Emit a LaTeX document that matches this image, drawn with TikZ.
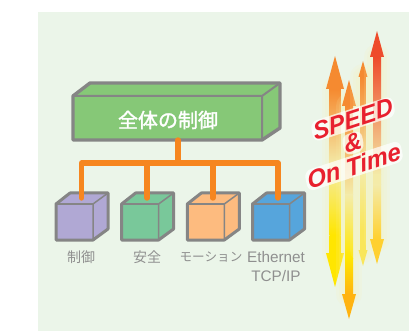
\documentclass[tikz,border=0pt]{standalone}
\usepackage{fontspec}
\usetikzlibrary{calc}
\newfontfamily\cjkm{Noto Sans CJK JP}
\newfontfamily\cjktitle[FakeBold=1.6]{Noto Sans CJK JP}
\newfontfamily\latinf{Liberation Sans}
\newfontfamily\speedf{Liberation Sans Bold Italic}
\definecolor{bgc}{HTML}{EBF5E9}
\definecolor{edgec}{HTML}{858585}
\definecolor{busc}{HTML}{F6861F}
\definecolor{textc}{HTML}{8F8F8F}
\definecolor{bigc}{HTML}{86C877}
\definecolor{speedc}{HTML}{E8202E}
\definecolor{glowc}{HTML}{FBF3B0}
\definecolor{cviolet}{HTML}{B0A8D4}
\definecolor{cgreen}{HTML}{79C89A}
\definecolor{corange}{HTML}{FDBB7F}
\definecolor{cblue}{HTML}{56A5DC}
\definecolor{aorange}{HTML}{F58A30}
\definecolor{ared}{HTML}{EE4B2B}
\definecolor{ayellow}{HTML}{FFE600}
\definecolor{aamber}{HTML}{FFB310}
\definecolor{asoft}{HTML}{F9E65A}
\definecolor{agold}{HTML}{FFD030}
\definecolor{apale}{HTML}{F4EBA8}
\tikzset{
  bus/.style={draw=busc,line width=5.4pt,line cap=round,line join=round},
  cubeedge/.style={draw=edgec,line width=3pt,line join=round},
  inneredge/.style={draw=edgec,line width=1.5pt,line join=round},
  caption/.style={text=textc,font=\cjkm\fontsize{14}{15}\selectfont,inner sep=0pt},
  latincaption/.style={caption,font=\latinf\fontsize{15.3}{16}\selectfont},
  speedtext/.style={text=speedc,inner sep=1.5pt,rotate=18,xslant=.12,
     fill=white,fill opacity=.7,text opacity=1,rounded corners=7pt,
     font=\speedf\fontsize{24.5}{26}\selectfont},
}
\newcommand{\smallcube}[3]{%
  \fill[#2] (#1,204)--(#1+14,193)--(#1+52,193)--(#1+52,229)--(#1+37,240)--(#1,240)--cycle;
  \draw[cubeedge] (#1,204)--(#1+14,193)--(#1+52,193)--(#1+52,229)--(#1+37,240)--(#1,240)--cycle;
  \draw[inneredge] (#1,204)--(#1+37,204)--(#1+37,240) (#1+37,204)--(#1+52,193);
  \coordinate (#3) at (#1+25.5,198);
}
\newcommand{\speedarrow}[9]{%
  \foreach \w in {26,20,14}{
    \draw[glowc,opacity=.13,line width=\w pt,line cap=round] (#1,#3) -- (#1,#6);
  }
  \shade[top color=\atopc,bottom color=apale]
    (#1-#9,#3) rectangle (#1+#9,#4);
  \shade[top color=apale,bottom color=\amidc]
    (#1-#9,#4) rectangle (#1+#9,#5);
  \shade[top color=\amidc,bottom color=\abotc]
    (#1-#9,#5) rectangle (#1+#9,#6);
  \fill[\atopc] (#1,#2) -- (#1+#8,#3) -- (#1-#8,#3) -- cycle;
  \fill[\abotc] (#1,#7) -- (#1+#8,#6) -- (#1-#8,#6) -- cycle;
}
\begin{document}
\begin{tikzpicture}[x=1pt,y=-1pt]
\useasboundingbox (0,0) rectangle (412,331);
\fill[white] (0,0) rectangle (412,331);
\fill[bgc] (38,12) rectangle (409,331);
% big box
\fill[bigc] (73,96)--(90,83)--(280,83)--(280,128)--(262,140)--(73,140)--cycle;
\draw[edgec,line width=3.4pt,line join=round] (73,96)--(90,83)--(280,83)--(280,128)--(262,140)--(73,140)--cycle;
\draw[edgec,line width=2pt,line join=round] (73,96)--(262,96)--(262,140) (262,96)--(280,83);
\node[text=white,font=\cjktitle\fontsize{20}{22}\selectfont,inner sep=0pt] (main) at (168,120) {全体の制御};
\coordinate (busdrop) at (178,140);
\coordinate (busjoin) at (178,163);
% cubes
\smallcube{56}{cviolet}{c1}
\smallcube{121.6}{cgreen}{c2}
\smallcube{187.3}{corange}{c3}
\smallcube{252.5}{cblue}{c4}
\node[caption] (l1) at (81,257) {制御};
\node[caption] (l2) at (147,257) {安全};
\node[caption,font=\cjkm\fontsize{12.6}{15}\selectfont] (l3) at (211,257) {モーション};
\node[latincaption] (l4) at (276,257) {Ethernet};
\node[latincaption] (l5) at (276,276) {TCP/IP};
% bus
\draw[bus] (busdrop) -- (busjoin);
\draw[bus] (c1) -- (c1 |- busjoin) -- (c4 |- busjoin) -- (c4);
\draw[bus] (busjoin -| c2) -- (c2);
\draw[bus] (busjoin -| c3) -- (c3);
% arrows
\def\atopc{aorange}\def\amidc{ayellow}\def\abotc{ayellow}
\speedarrow{335}{56}{89}{165}{235}{253}{287}{9}{5.5}
\def\atopc{aorange}\def\amidc{ayellow}\def\abotc{aamber}
\speedarrow{349}{80}{106}{195}{258}{294}{319}{7}{4}
\def\atopc{aorange}\def\amidc{asoft}\def\abotc{asoft}
\speedarrow{363}{61}{77}{170}{230}{250}{266}{4.5}{2.8}
\def\atopc{ared}\def\amidc{apale}\def\abotc{agold}
\speedarrow{377}{31}{57}{175}{185}{239}{264}{7}{4}
% text
\node[speedtext] (s3) at (354,166) {On Time};
\node[speedtext] (s2) at (353,143) {\&};
\node[speedtext] (s1) at (353,119) {SPEED};
\end{tikzpicture}
\end{document}
